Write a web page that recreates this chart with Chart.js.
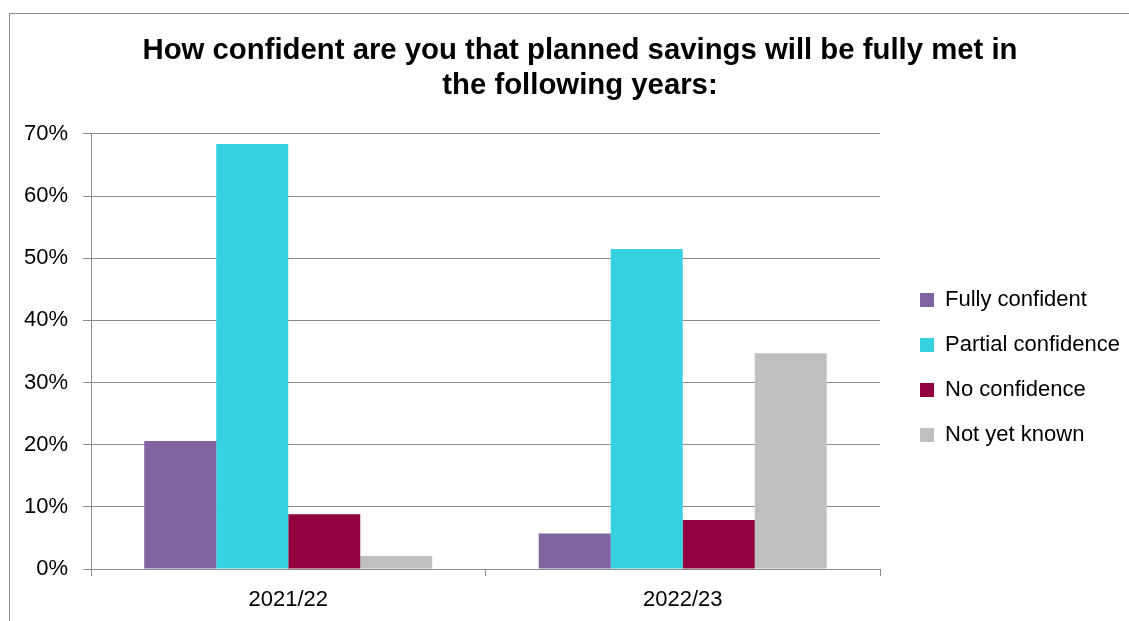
<!DOCTYPE html>
<html>
<head>
<meta charset="utf-8">
<script src="https://cdn.jsdelivr.net/npm/chart.js@4.4.1/dist/chart.umd.min.js"></script>
<style>
  html, body { margin: 0; padding: 0; background: #fff; overflow: hidden; }
  #wrap { position: relative; width: 1129px; height: 621px; }
  #frame { position: absolute; left: 9px; top: 13px; right: 0; bottom: 0;
           border-left: 1px solid #8c8c8c; border-top: 1px solid #8c8c8c; }
  canvas { position: absolute; left: 0; top: 0; }
</style>
</head>
<body>
<div id="wrap">
  <div id="frame"></div>
  <canvas id="c" width="1129" height="621"></canvas>
</div>
<script>
// ---- data ----
const categories = ['2021/22', '2022/23'];
const seriesNames = ['Fully confident', 'Partial confidence', 'No confidence', 'Not yet known'];
const fullyConfident = [20.6, 5.7];
const partialConfidence = [68.4, 51.5];
const noConfidence = [8.8, 7.9];
const notYetKnown = [2.1, 34.7];
const yTicks = [0, 10, 20, 30, 40, 50, 60, 70];
const titleLines = ['How confident are you that planned savings will be fully met in', 'the following years:'];

const colors = ['#8064A2', '#35D1E0', '#92003F', '#BFBFBF'];
const values = [fullyConfident, partialConfidence, noConfidence, notYetKnown];

const LEGEND_PAD = 23;

const layoutTweaks = {
  id: 'layoutTweaks',
  beforeLayout(chart) {
    const lg = chart.legend;
    if (lg && !lg._patched) {
      const orig = lg.fit.bind(lg);
      lg.fit = function () { orig(); this.width = 249; };
      lg._patched = true;
    }
  },
  afterLayout(chart) {
    const lg = chart.legend;
    if (lg) {
      lg.left = 920 - LEGEND_PAD;
      lg.top = 289 - LEGEND_PAD;
      lg.bottom = 621;
    }
    const tb = chart.titleBlock;
    if (tb) {
      tb.left = 31;
      tb.right = 1129;
    }
  }
};

new Chart(document.getElementById('c'), {
  type: 'bar',
  data: {
    labels: categories,
    datasets: seriesNames.map((name, i) => ({
      label: name,
      data: values[i],
      backgroundColor: colors[i],
      borderWidth: 0,
      categoryPercentage: 0.73,
      barPercentage: 1.0
    }))
  },
  options: {
    responsive: false,
    animation: false,
    devicePixelRatio: 1,
    layout: { padding: 0 },
    plugins: {
      title: {
        display: true,
        text: titleLines,
        color: '#000',
        font: { family: '"Liberation Sans", Arial, sans-serif', size: 29.33, weight: 'bold', lineHeight: 1.193 },
        padding: { top: 33, bottom: 31 }
      },
      legend: {
        display: true,
        position: 'right',
        align: 'start',
        labels: {
          boxWidth: 14,
          boxHeight: 14,
          padding: LEGEND_PAD,
          color: '#000',
          font: { family: '"Liberation Sans", Arial, sans-serif', size: 22 }
        }
      },
      tooltip: { enabled: false }
    },
    scales: {
      x: {
        offset: true,
        grid: { display: true, offset: true, drawOnChartArea: false, drawTicks: true, tickLength: 7, color: '#8c8c8c' },
        border: { display: true, color: '#8c8c8c' },
        ticks: {
          color: '#000',
          padding: 11,
          font: { family: '"Liberation Sans", Arial, sans-serif', size: 22 }
        },
        afterFit(scale) { scale.height = 52; }
      },
      y: {
        min: 0,
        max: 70,
        afterBuildTicks(scale) { scale.ticks = yTicks.map(v => ({ value: v })); },
        grid: { color: '#8c8c8c', drawTicks: true, tickLength: 8 },
        border: { display: true, color: '#8c8c8c' },
        ticks: {
          color: '#000',
          padding: 15,
          font: { family: '"Liberation Sans", Arial, sans-serif', size: 22 },
          callback: (v) => v + '%'
        },
        afterFit(scale) { scale.width = 91; }
      }
    }
  },
  plugins: [layoutTweaks]
});
</script>
</body>
</html>
